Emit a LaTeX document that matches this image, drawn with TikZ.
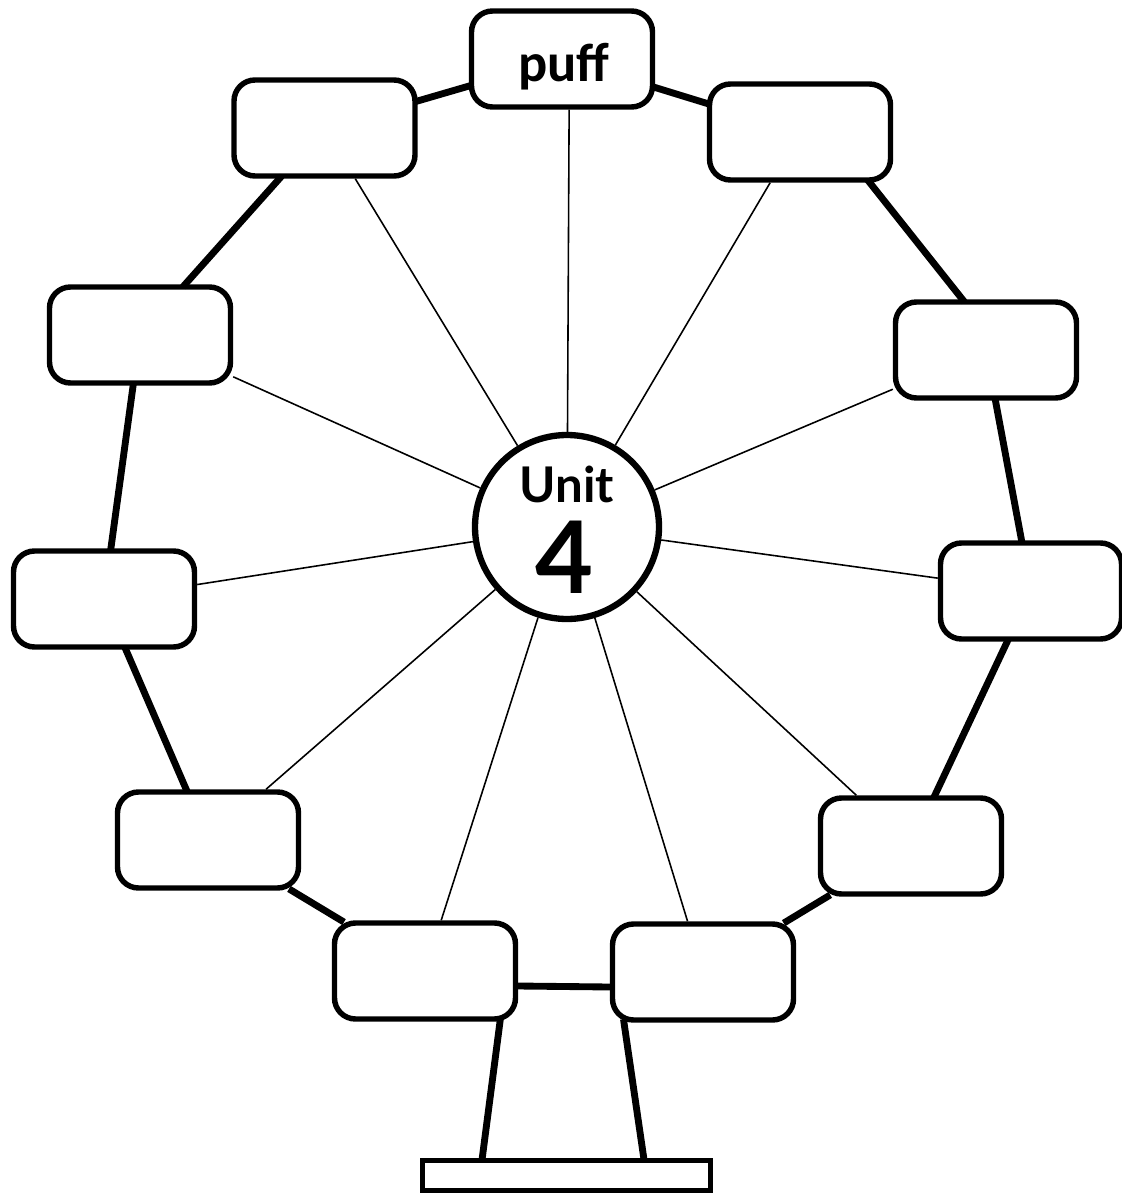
\documentclass[tikz,border=0pt]{standalone}
\usepackage{fontspec}
\newfontfamily\unitfont{Lato}
\newfontfamily\wordfont{Carlito}
\usepackage{tikz}
\usetikzlibrary{calc}
\usetikzlibrary{shapes, positioning}
\tikzset{>=stealth}
\tikzset{cab/.style={draw,rounded corners=0.42cm,line width=3.1pt,minimum width=3.62cm,minimum height=1.92cm,inner sep=0pt},
	hub/.style={circle,draw,line width=3.6pt,minimum size=3.68cm,inner sep=0pt},
	rim/.style={line width=3.9pt,shorten <=-2pt,shorten >=-2pt},
	spoke/.style={line width=0.9pt},
	stand/.style={draw,line width=3.1pt,minimum width=5.76cm,minimum height=0.6cm,inner sep=0pt},
	word/.style={anchor=base,inner sep=0pt,font=\wordfont\bfseries\fontsize{31}{31}\selectfont},
	hubword/.style={anchor=base,inner sep=0pt,font=\unitfont\bfseries\fontsize{28}{28}\selectfont},
	hubnum/.style={anchor=base,inner sep=0pt,font=\unitfont\bfseries\fontsize{57}{57}\selectfont}}

\begin{document}
\begin{tikzpicture}
				\useasboundingbox (0,0) rectangle (22.42,-23.94);

				\draw (11.34,-10.54) node (hub) [hub] {};
				\draw (11.34,-10.04) node (unit) [hubword] {Unit};
				\draw (11.30,-11.86) node (num) [hubnum] {4};

				\draw (11.24,-1.18) node (P) [cab] {};
				\draw (11.28,-1.64) node (puff) [word] {puff};
				\draw (6.49,-2.56) node (L1) [cab] {};
				\draw (16.00,-2.64) node (R1) [cab] {};
				\draw (2.80,-6.70) node (L2) [cab] {};
				\draw (19.72,-7.00) node (R2) [cab] {};
				\draw (2.08,-11.98) node (L3) [cab] {};
				\draw (20.62,-11.82) node (R3) [cab] {};
				\draw (4.16,-16.80) node (L4) [cab] {};
				\draw (18.22,-16.92) node (R4) [cab] {};
				\draw (8.50,-19.42) node (L5) [cab] {};
				\draw (14.06,-19.44) node (R5) [cab] {};

				\draw [spoke] (hub) -- (P.-82);
				\draw [spoke] (hub) -- (L1);
				\draw [spoke] (hub) -- (R1);
				\draw [spoke] (hub) -- (L2);
				\draw [spoke] (hub) -- (R2);
				\draw [spoke] (hub) -- (L3);
				\draw [spoke] (hub) -- (R3);
				\draw [spoke] (hub) -- (L4);
				\draw [spoke] (hub) -- (R4);
				\draw [spoke] (hub) -- (L5);
				\draw [spoke] (hub) -- (R5);

				\draw [rim] (P) -- (L1);
				\draw [rim] (L1) -- (L2);
				\draw [rim] (L2) -- (L3);
				\draw [rim] (L3) -- (L4);
				\draw [rim] (L4) -- (L5);
				\draw [rim] ([yshift=-0.3cm]L5.east) -- ([yshift=-0.3cm]R5.west);
				\draw [rim] (R5) -- (R4);
				\draw [rim] (R4) -- (R3);
				\draw [rim] (R3) -- (R2);
				\draw [rim] (R2.115) -- (R1.-36);
				\draw [rim] (R1) -- (P);

				\draw (11.33,-23.51) node (base) [stand] {};
				\coordinate (lt) at ($(L5.south)+(1.5,0)$);
				\coordinate (lb) at ($(base.north west)+(1.25,0)$);
				\coordinate (rt) at ($(R5.south)+(-1.58,0)$);
				\coordinate (rb) at ($(base.north east)+(-1.39,0)$);
				\draw [rim] (lt) -- (lb);
				\draw [rim] (rt) -- (rb);
			\end{tikzpicture}
\end{document}
